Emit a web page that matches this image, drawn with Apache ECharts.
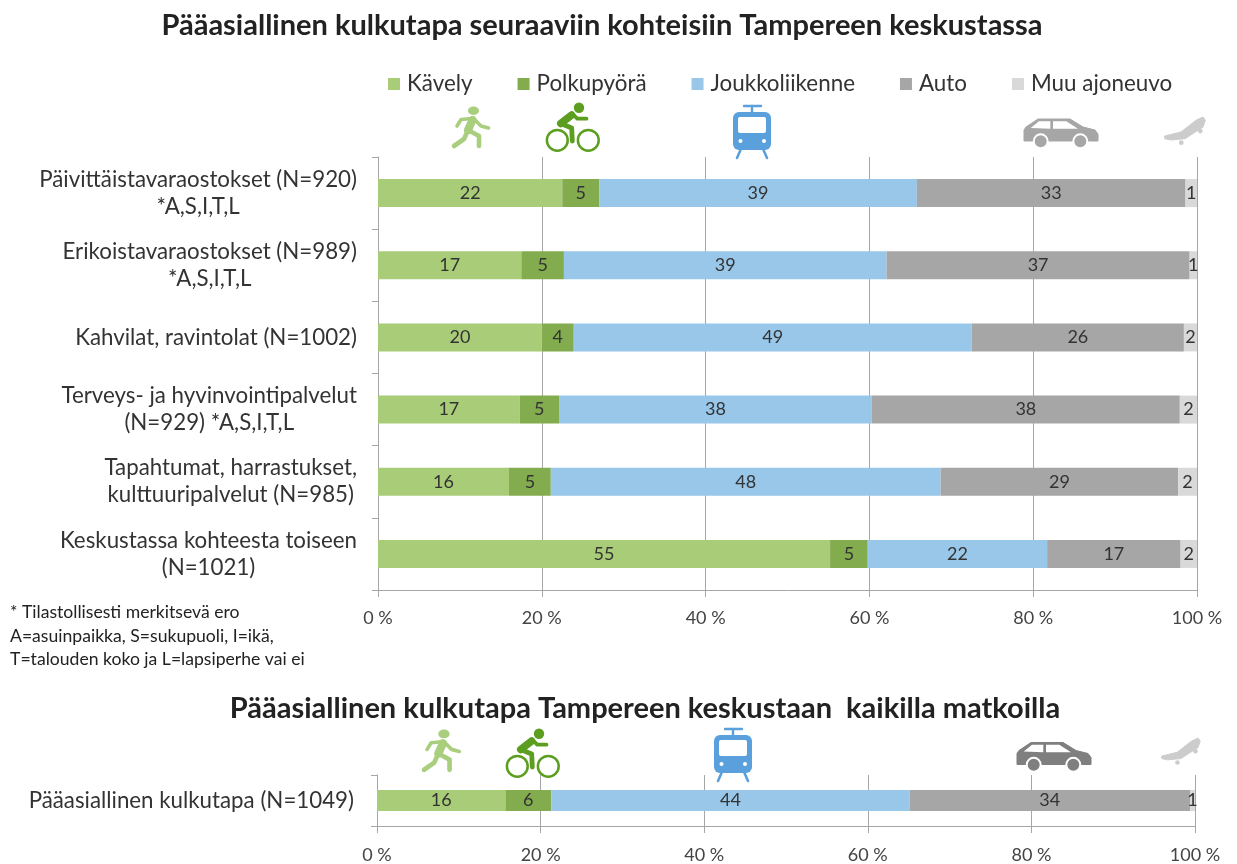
<!DOCTYPE html>
<html><head><meta charset="utf-8">
<style>html,body{margin:0;padding:0;background:#fff}#c{width:1237px;height:864px}</style>
<script src="https://cdn.jsdelivr.net/npm/echarts@6/dist/echarts.min.js"></script>
</head><body><div id="c"></div>
<script>
const FONT = 'Lato';
const seriesNames = ['Kävely','Polkupyörä','Joukkoliikenne','Auto','Muu ajoneuvo'];
const colors = ['#A9CC78','#82AC4E','#98C7E9','#A6A6A6','#D9D9D9'];
const categories = [
  'Päivittäistavaraostokset (N=920)\n*A,S,I,T,L',
  'Erikoistavaraostokset (N=989)\n*A,S,I,T,L',
  'Kahvilat, ravintolat (N=1002)',
  'Terveys- ja hyvinvointipalvelut\n(N=929) *A,S,I,T,L',
  'Tapahtumat, harrastukset,\nkulttuuripalvelut (N=985)',
  'Keskustassa kohteesta toiseen\n(N=1021)'
];
const kavely      = [22.5,17.5,20.0,17.3,16.0,55.2];
const polkupyora  = [4.5,5.2,3.9,4.8,5.1,4.6];
const joukko      = [38.8,39.4,48.6,38.2,47.6,21.9];
const auto        = [32.8,37.0,25.9,37.6,29.0,16.3];
const muu         = [1.4,0.9,1.6,2.1,2.3,2.0];
const kavelyLabels     = [22,17,20,17,16,55];
const polkupyoraLabels = [5,5,4,5,5,5];
const joukkoLabels     = [39,39,49,38,48,22];
const autoLabels       = [33,37,26,38,29,17];
const muuLabels        = [1,1,2,2,2,2];

const category2 = ['Pääasiallinen kulkutapa (N=1049)'];
const values2 = [15.7,5.6,43.8,34.3,0.6];
const labels2 = [16,6,44,34,1];

const mainTitle = 'Pääasiallinen kulkutapa seuraaviin kohteisiin Tampereen keskustassa';
const subTitle = 'Pääasiallinen kulkutapa Tampereen keskustaan  kaikilla matkoilla';
const footnote = ['* Tilastollisesti merkitsevä ero','A=asuinpaikka, S=sukupuoli, I=ikä,','T=talouden koko ja L=lapsiperhe vai ei'];

const rows = [kavely,polkupyora,joukko,auto,muu];
const rowLabels = [kavelyLabels,polkupyoraLabels,joukkoLabels,autoLabels,muuLabels];

const axisGrey = '#A6A6A6';
function mkSeries(i, data, labels, axisIdx, barW){
  return {name:seriesNames[i], type:'bar', stack:'s'+axisIdx, xAxisIndex:axisIdx, yAxisIndex:axisIdx,
    data:data, barWidth:barW, itemStyle:{color:colors[i]},
    label:{show:true, position:'inside', color:'#333', fontFamily:FONT, fontSize:18,
      formatter:p=>String(labels[p.dataIndex])},
    labelLayout:{hideOverlap:false}, emphasis:{disabled:true}, silent:true, animation:false};
}
const series=[];
rows.forEach((r,i)=>series.push(mkSeries(i,r,rowLabels[i],0,28)));
values2.forEach((v,i)=>series.push(mkSeries(i,[v],[labels2[i]],1,21)));

function xAx(idx,margin){return {gridIndex:idx,type:'value',min:0,max:100,interval:20,
  axisLine:{show:true,lineStyle:{color:axisGrey,width:1}},
  axisTick:{show:true,length:7,lineStyle:{color:axisGrey}},
  splitLine:{show:true,lineStyle:{color:axisGrey,width:1}},
  axisLabel:{color:'#444',fontFamily:FONT,fontSize:18,margin:margin,formatter:'{value} %',
    showMinLabel:true,showMaxLabel:true,hideOverlap:false}};}
function yAx(idx,cats,margin){return {gridIndex:idx,type:'category',inverse:true,data:cats,
  axisLine:{show:true,lineStyle:{color:axisGrey}},
  axisTick:{show:true,length:6,lineStyle:{color:axisGrey}},
  axisLabel:{interval:0,margin:margin,align:'right',lineHeight:27,color:'#333',fontFamily:FONT,fontSize:22.3,
    formatter:v=>v.split('\n').map(l=>'{c|'+l+'}').join('\n'),
    rich:{c:{align:'center',color:'#333',fontFamily:FONT,fontSize:22.3,lineHeight:27}}}};}

/* ---- pictograms ---- */
function line(pts,color,w){return {type:'polyline',shape:{points:pts},style:{stroke:color,lineWidth:w,fill:null,lineCap:'round',lineJoin:'round'}};}
function disc(cx,cy,r,color){return {type:'circle',shape:{cx,cy,r},style:{fill:color}};}
function walker(x,y,s,c){return {type:'group',x,y,scaleX:s,scaleY:s,children:[
  {type:'ellipse',shape:{cx:21.5,cy:3.8,rx:5.5,ry:4.2},style:{fill:c}},
  line([[20.5,13],[16,23]],c,8),
  line([[16,23],[12,32],[2,39]],c,4.6),
  line([[16,23],[27,29],[27,39]],c,4.6),
  line([[20,11.5],[9,12.5],[5,19]],c,3.6),
  line([[22,12],[29,19],[36.5,21]],c,3.6)
]};}
function bike(x,y,s,c){return {type:'group',x,y,scaleX:s,scaleY:s,children:[
  {type:'circle',shape:{cx:12.3,cy:37.3,r:10.4},style:{fill:null,stroke:c,lineWidth:2.5}},
  {type:'circle',shape:{cx:43.3,cy:37.3,r:10.4},style:{fill:null,stroke:c,lineWidth:2.5}},
  disc(34,4.8,5.2,c),
  line([[26.7,12],[15.7,20.5]],c,7.5),
  line([[15.7,20.5],[26.7,25],[27.3,38]],c,4.8),
  line([[27,10.5],[32.3,15.7],[41.5,15.7]],c,3.8)
]};}
function tram(x,y,s,c){return {type:'group',x,y,scaleX:s,scaleY:s,children:[
  line([[11,1],[28,1]],c,2.4),
  line([[19,1],[19,8]],c,2.4),
  {type:'rect',shape:{x:0,y:7,width:38,height:38,r:6},style:{fill:c}},
  {type:'rect',shape:{x:5,y:12,width:28,height:16,r:2},style:{fill:'#fff'}},
  disc(7.5,36,2,'#fff'),disc(31,36,2,'#fff'),
  line([[7.5,45],[4,53]],c,2.6),
  line([[30.5,45],[34,53]],c,2.6)
]};}
function car(x,y,s,c){return {type:'group',x,y,scaleX:s,scaleY:s,children:[
  {type:'polygon',shape:{points:[[0,23],[0,12],[2,9],[14,1],[46,1],[59,9],[71,12],[74,16],[74,23]]},style:{fill:c,stroke:c,lineWidth:1,lineJoin:'round'}},
  {type:'polygon',shape:{points:[[6.7,10],[15,3.3],[26.3,3.3],[26.3,10.7]]},style:{fill:'#fff'}},
  {type:'polygon',shape:{points:[[29,3.3],[42.3,3.3],[54,10.7],[29,10.7]]},style:{fill:'#fff'}},
  {type:'circle',shape:{cx:16.7,cy:23.3,r:7},style:{fill:c,stroke:'#fff',lineWidth:2}},
  {type:'circle',shape:{cx:56.3,cy:23.3,r:7},style:{fill:c,stroke:'#fff',lineWidth:2}}
]};}
function skate(x,y,s,c){return {type:'group',x,y,scaleX:s,scaleY:s,children:[
  disc(17.3,25.7,2.4,c),disc(36.3,14,2.4,c),
  {type:'polygon',shape:{points:[[0.7,19],[17,15],[32,3.3],[39,0],[41.3,3.3],[39,10],[21,21.7],[7,23],[0.7,21.7]]},style:{fill:c,stroke:c,lineWidth:1,lineJoin:'round'}}
]};}
const iconColors = {walk:'#A9CF7E',bike:'#5C9E1F',tram:'#5AA0DC',car1:'#A6A6A6',car2:'#7F7F7F',skate:'#CCCCCC'};

const footGraphics = footnote.map((t,i)=>({type:'text',x:10,y:[612,636,659][i],
  style:{text:t,fontFamily:FONT,fontSize:17.6,fill:'#222',textVerticalAlign:'middle'}}));

const chart = echarts.init(document.getElementById('c'),null,{renderer:'canvas'});
chart.setOption({
  animation:false, backgroundColor:'#fff',
  title:[
    {text:mainTitle,left:597,top:6,textAlign:'center',textStyle:{fontFamily:FONT,fontWeight:'bold',fontSize:29,color:'#222'}},
    {text:subTitle,left:640,top:689,textAlign:'center',textStyle:{fontFamily:FONT,fontWeight:'bold',fontSize:29,color:'#222'}}
  ],
  legend:{data:seriesNames,left:383,top:68,itemWidth:12,itemHeight:12,itemGap:45,icon:'rect',
    selectedMode:false,textStyle:{fontFamily:FONT,fontSize:22.4,color:'#333',padding:[0,0,0,2]}},
  grid:[{left:378,top:157,width:819,height:433},{left:377,top:775,width:818,height:52}],
  xAxis:[xAx(0,19),xAx(1,20)],
  yAxis:[yAx(0,categories,21),yAx(1,category2,23)],
  series:series,
  graphic:[
    ...footGraphics,
    walker(452,107,1,iconColors.walk),
    bike(545,103,1,iconColors.bike),
    tram(733,105,1,iconColors.tram),
    car(1024,118,1,iconColors.car1),
    skate(1164,117,1,iconColors.skate),
    walker(422,730,1.02,iconColors.walk),
    bike(505,729,1,iconColors.bike),
    tram(714,728,1,iconColors.tram),
    car(1017,741.5,1,iconColors.car2),
    skate(1161,738,0.95,iconColors.skate)
  ]
});
</script></body></html>
